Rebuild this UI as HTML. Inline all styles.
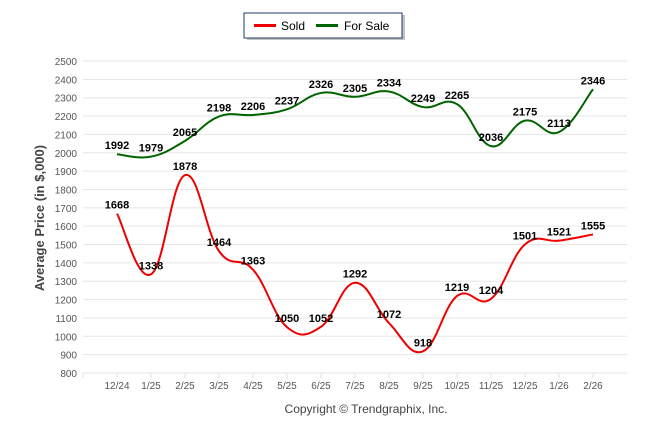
<!DOCTYPE html>
<html><head><meta charset="utf-8">
<style>
body{margin:0;background:#fff;width:646px;height:434px;overflow:hidden;font-family:"Liberation Sans",sans-serif}
</style></head><body>
<svg id="chart" width="646" height="434">
<g>
<rect x="247" y="15" width="158" height="25" fill="#888" opacity="0.5"/>
<rect x="244" y="13" width="158" height="25" fill="#fff" stroke="#1f3864" stroke-width="1"/>
<line x1="254" y1="25.5" x2="276" y2="25.5" stroke="#e00" stroke-width="3"/>
<text x="281" y="30" font-size="12" fill="#000">Sold</text>
<line x1="316" y1="25.5" x2="338" y2="25.5" stroke="#006400" stroke-width="3"/>
<text x="344" y="30" font-size="12" fill="#000">For Sale</text>
</g>
<g id="grid"></g><g id="axes"></g><g id="series"></g>
<text x="44" y="218" font-size="13" font-weight="bold" fill="#444" text-anchor="middle" transform="rotate(-90 44 218)">Average Price (in $,000)</text>
<text x="366" y="413" font-size="12" fill="#444" text-anchor="middle">Copyright © Trendgraphix, Inc.</text>
</svg>
<script>
const categories=["12/24","1/25","2/25","3/25","4/25","5/25","6/25","7/25","8/25","9/25","10/25","11/25","12/25","1/26","2/26"];
const soldValues=[1668,1338,1878,1464,1363,1050,1052,1292,1072,918,1219,1204,1501,1521,1555];
const forSaleValues=[1992,1979,2065,2198,2206,2237,2326,2305,2334,2249,2265,2036,2175,2113,2346];
const yTicks=[800,900,1000,1100,1200,1300,1400,1500,1600,1700,1800,1900,2000,2100,2200,2300,2400,2500];
const NS="http://www.w3.org/2000/svg";
const plotLeft=83,plotRight=627,plotTop=61,plotBottom=373,yMin=800,yMax=2500;
const band=(plotRight-plotLeft)/(categories.length+1);
function xs(i){return plotLeft+band*(i+1);}
function ys(v){return plotBottom-(v-yMin)/(yMax-yMin)*(plotBottom-plotTop);}
function mk(tag,attrs,parent){const e=document.createElementNS(NS,tag);for(const k in attrs)e.setAttribute(k,attrs[k]);parent.appendChild(e);return e;}
const gridG=document.getElementById('grid'),axesG=document.getElementById('axes'),seriesG=document.getElementById('series');
yTicks.forEach(t=>{
 const l=mk('line',{x1:plotLeft,x2:plotRight,y1:ys(t),y2:ys(t),stroke:'#e6e6e6','stroke-width':1},gridG);
 
 
 const tx=mk('text',{x:plotLeft-6,y:ys(t)+4,'font-size':10,fill:'#555','text-anchor':'end'},axesG);
 tx.textContent=t;
 
 
});
for(let i=0;i<=categories.length;i++){
 const x=plotLeft+band*i;
 const tk=mk('line',{x1:x,x2:x,y1:plotBottom,y2:plotBottom+5,stroke:'#ddd'},axesG);
 
 
}
categories.forEach((c,i)=>{
 const tx=mk('text',{x:xs(i),y:plotBottom+16,'font-size':10,fill:'#555','text-anchor':'middle'},axesG);
 tx.textContent=c;
 
 
});
function smooth(vals){
 const p=vals.map((v,i)=>[xs(i),ys(v)]);
 let d='M'+p[0][0]+','+p[0][1];
 for(let i=0;i<p.length-1;i++){
  const p0=p[i-1]||p[i],p1=p[i],p2=p[i+1],p3=p[i+2]||p[i+1];
  const t=0.2;
  d+=' C'+(p1[0]+(p2[0]-p0[0])*t)+','+(p1[1]+(p2[1]-p0[1])*t)+' '+(p2[0]-(p3[0]-p1[0])*t)+','+(p2[1]-(p3[1]-p1[1])*t)+' '+p2[0]+','+p2[1];
 }
 return d;
}
function draw(vals,color,name){
 const path=mk('path',{d:smooth(vals),fill:'none',stroke:color,'stroke-width':2},seriesG);
 
 
 vals.forEach((v,i)=>{
  const tx=mk('text',{x:xs(i),y:ys(v)-5,'font-size':11,'font-weight':'bold',fill:'#000','text-anchor':'middle'},seriesG);
  tx.textContent=v;
  
  
 });
}
draw(forSaleValues,'#006400','for-sale');
draw(soldValues,'#e00','sold');
</script>
</body></html>
